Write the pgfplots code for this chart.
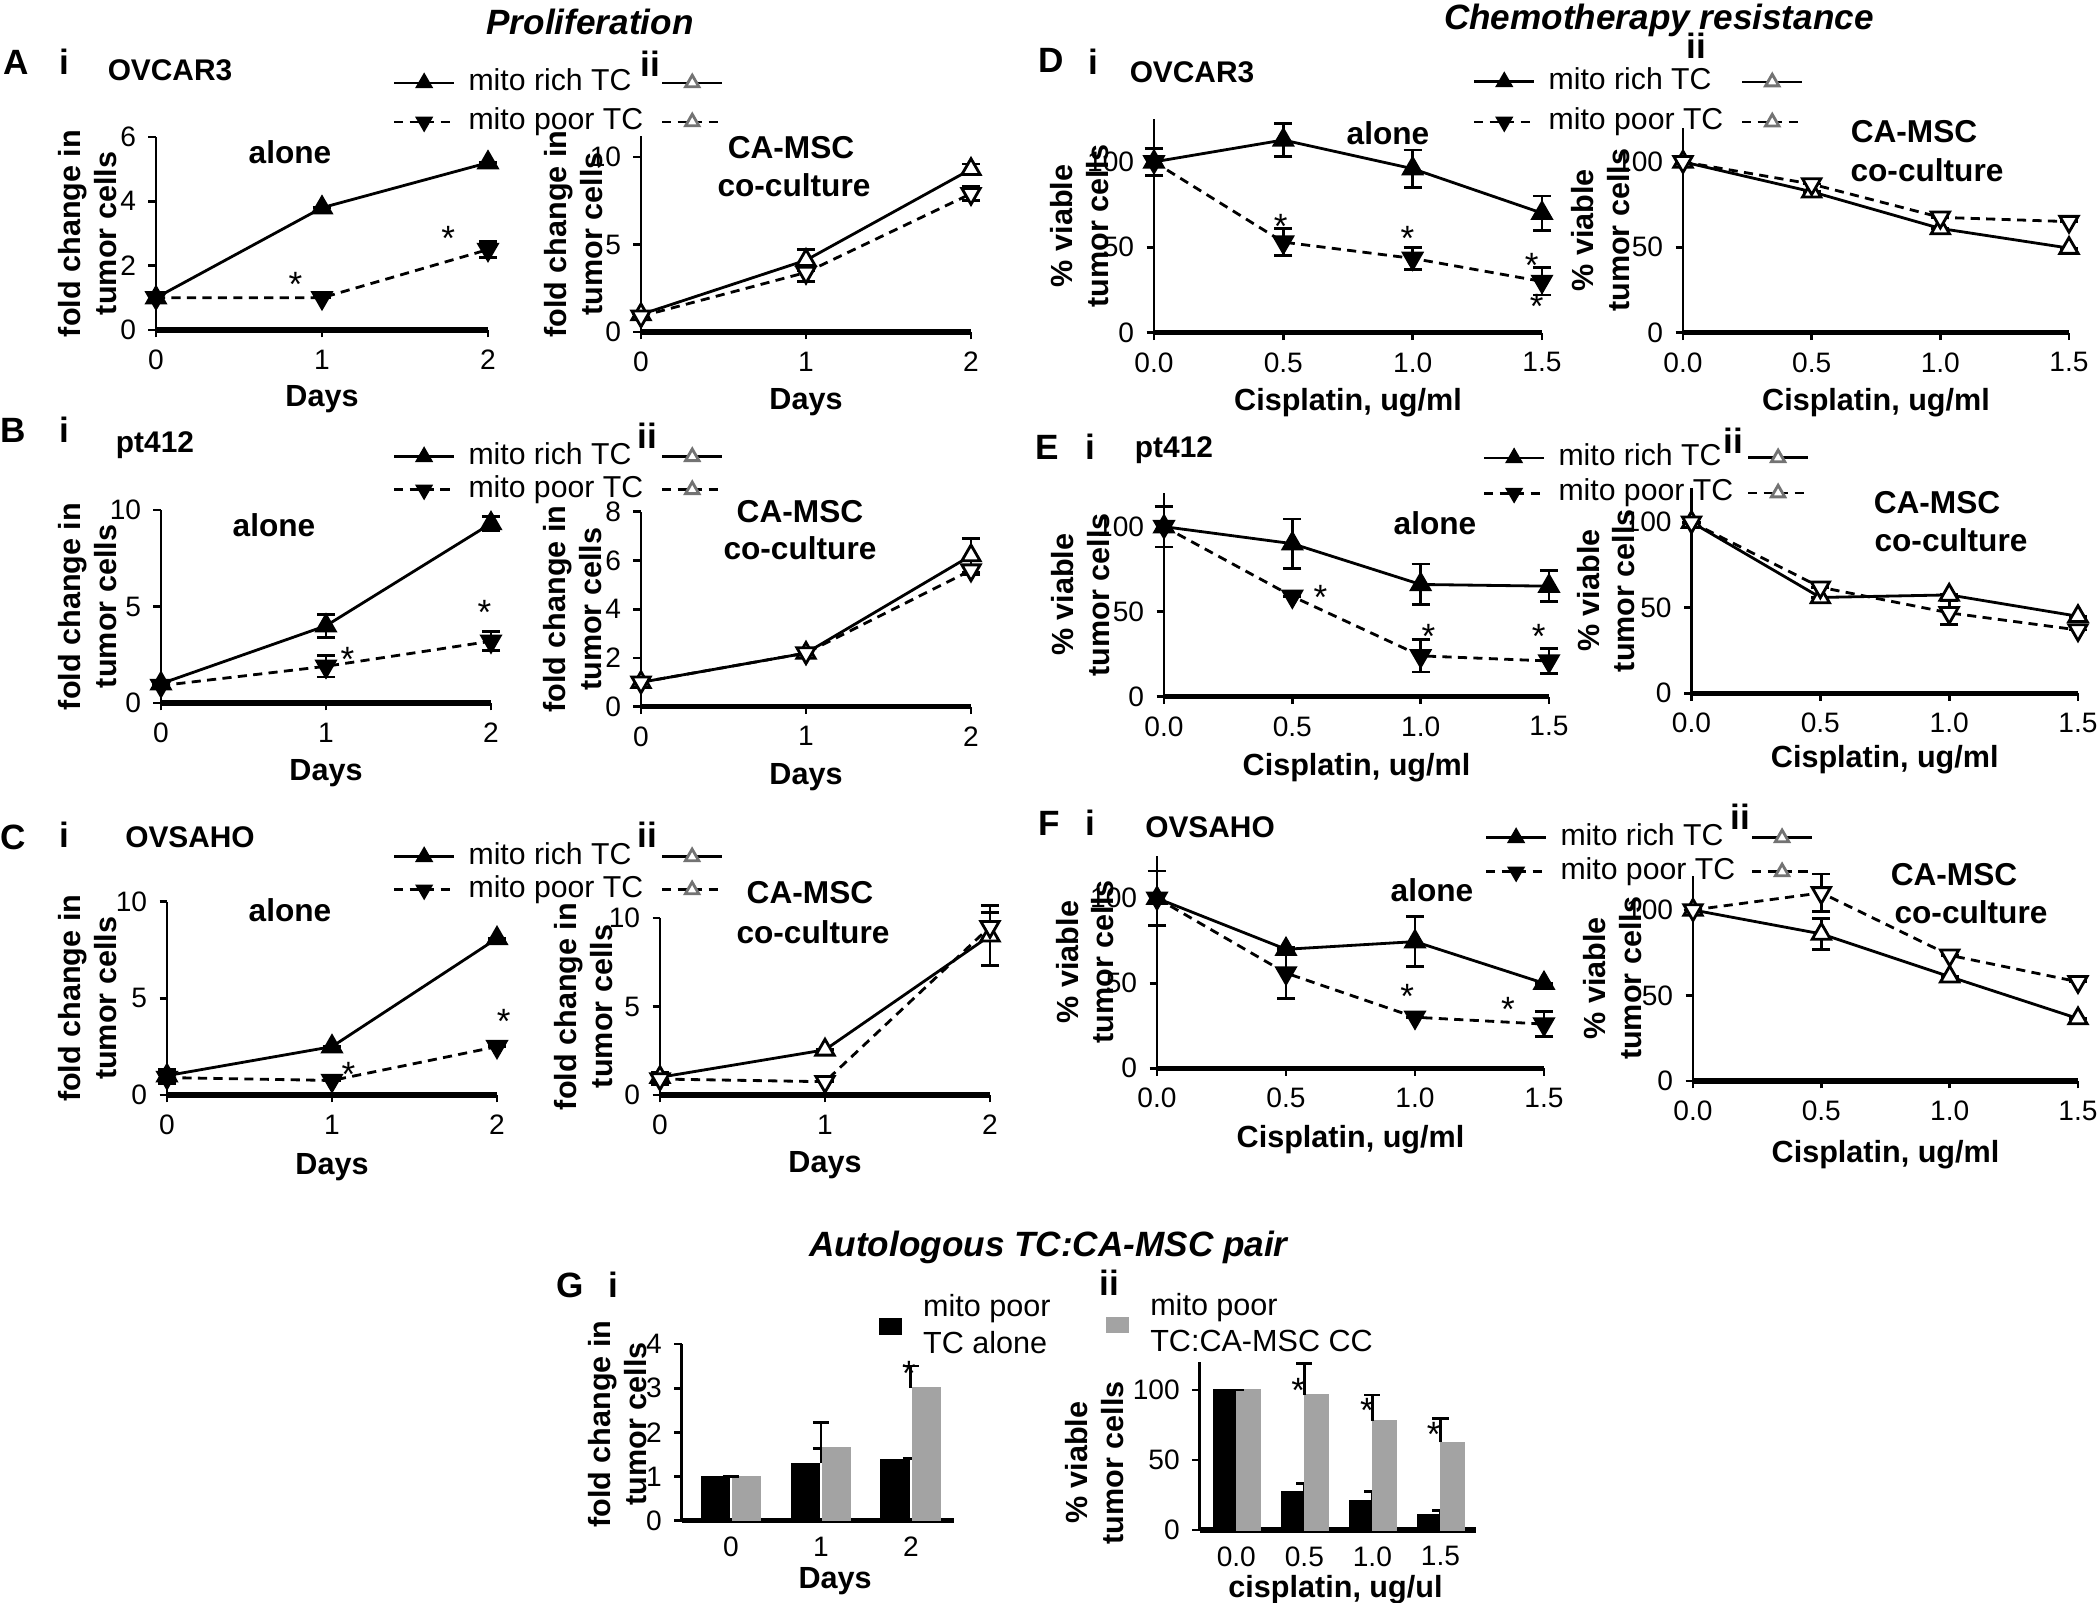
\documentclass[border=0pt]{standalone}
\usepackage{fontspec}
\setmainfont{Liberation Sans}
\usepackage{pgfplots}
\pgfplotsset{compat=1.18}
\definecolor{gbar}{RGB}{163,163,163}
\newcommand{\fTick}{\fontsize{8}{9}\selectfont}
\newcommand{\fLab}{\bfseries\fontsize{8.7}{10.2}\selectfont}
\newcommand{\fLeg}{\fontsize{8.6}{10}\selectfont}
\newcommand{\fTitle}{\bfseries\itshape\fontsize{10}{12}\selectfont}
\newcommand{\fPanel}{\bfseries\fontsize{10}{12}\selectfont}
\newcommand{\fCell}{\bfseries\fontsize{8.5}{10}\selectfont}
\newcommand{\fAnn}{\bfseries\fontsize{9}{10.5}\selectfont}
\pgfplotsset{
 gp/.style={scale only axis, anchor=south west, clip=false,
  axis x line*=bottom, axis y line*=left,
  x axis line style={-, line width=1.5pt},
  y axis line style={-, line width=0.8pt},
  tick align=outside, major tick length=0.75mm,
  tick style={black, line width=0.8pt},
  /pgf/number format/assume math mode=true,
  ticklabel style={font=\fTick},
  label style={font=\fLab, align=center},
  legend cell align=left},
 dx/.style={xmin=0,xmax=2,ymin=0,xtick={0,1,2},xlabel={Days},ylabel={fold change in\\tumor cells}},
 cx/.style={xmin=0,xmax=1.5,ymin=0,xtick={0,0.5,1,1.5},ytick={0,50,100},
  xticklabel style={/pgf/number format/fixed,/pgf/number format/fixed zerofill,/pgf/number format/precision=1},
  xlabel={Cisplatin, ug/ml},ylabel={\% viable\\tumor cells}},
 xl/.style={xlabel style={at={(axis description cs:#1)},anchor=center}},
 yl/.style={ylabel style={at={(axis description cs:#1)},anchor=center}},
 leg/.style 2 args={legend style={draw=none,fill=none,inner sep=0pt,row sep=#2,column sep=1.3mm,
  at={(axis description cs:#1)},anchor=west,font=\fLeg,
  nodes={inner sep=0pt,text height=6pt,text depth=1.8pt}},
  legend image post style={mark size=2.2pt}},
 rich/.style={black,line width=0.8pt,mark=triangle*,mark size=3pt,mark options={solid,fill=black}},
 poor/.style={black,line width=0.8pt,dash pattern=on 2.6pt off 1.8pt,mark=triangle*,mark size=3pt,mark options={solid,fill=black,rotate=180}},
 orich/.style={black,line width=0.8pt,mark=triangle*,mark size=3pt,mark options={solid,fill=white}},
 opoor/.style={black,line width=0.8pt,dash pattern=on 2.6pt off 1.8pt,mark=triangle*,mark size=3pt,mark options={solid,fill=white,rotate=180}},
 lrich/.style={black,line width=0.8pt,mark=triangle*,mark size=2pt,mark options={solid,fill=white,draw=black!55}},
 lpoor/.style={black,line width=0.8pt,dash pattern=on 2.6pt off 1.8pt,mark=triangle*,mark size=2pt,mark options={solid,fill=white,draw=black!55}},
 eb/.style={error bars/y dir=both, error bars/y explicit, error bars/error mark=-,
  error bars/error bar style={solid,draw=black,line width=0.8pt},
  error bars/error mark options={rotate=90,solid,draw=black,line width=0.8pt,mark size=2.6pt}},
 ebp/.style={error bars/y dir=plus, error bars/y explicit, error bars/error mark=-,
  error bars/error bar style={solid,draw=black,line width=0.8pt},
  error bars/error mark options={rotate=90,solid,draw=black,line width=0.8pt,mark size=2.3pt}},
}
\tikzset{ast/.style={font=\fontsize{10}{10}\selectfont,inner sep=0pt,yshift=-2.2pt}}
\begin{document}
\begin{tikzpicture}
\useasboundingbox (0,0) rectangle (210mm,160.3mm);
% titles
\node[font=\fTitle] at (59.0mm,158.1mm) {Proliferation};
\node[font=\fTitle] at (165.9mm,158.3mm) {Chemotherapy resistance};
\node[font=\fTitle] at (104.85mm,35.6mm) {Autologous TC:CA-MSC pair};
% panel letters
\node[font=\fPanel] at (1.6mm,154.1mm) {A};
\node[font=\fPanel] at (6.4mm,154.1mm) {i};
\node[font=\fCell] at (17.0mm,153.3mm) {OVCAR3};
\node[font=\fPanel] at (65.0mm,153.9mm) {ii};
\node[font=\fPanel] at (1.3mm,117.3mm) {B};
\node[font=\fPanel] at (6.4mm,117.3mm) {i};
\node[font=\fCell] at (15.5mm,115.8mm) {pt412};
\node[font=\fPanel] at (64.7mm,116.7mm) {ii};
\node[font=\fPanel] at (1.3mm,76.6mm) {C};
\node[font=\fPanel] at (6.4mm,76.8mm) {i};
\node[font=\fCell] at (19.0mm,76.6mm) {OVSAHO};
\node[font=\fPanel] at (64.7mm,76.8mm) {ii};
\node[font=\fPanel] at (105.1mm,154.3mm) {D};
\node[font=\fPanel] at (109.3mm,154.1mm) {i};
\node[font=\fCell] at (119.2mm,153.1mm) {OVCAR3};
\node[font=\fPanel] at (169.6mm,155.7mm) {ii};
\node[font=\fPanel] at (104.7mm,115.6mm) {E};
\node[font=\fPanel] at (109.0mm,115.6mm) {i};
\node[font=\fCell] at (117.4mm,115.3mm) {pt412};
\node[font=\fPanel] at (173.3mm,116.2mm) {ii};
\node[font=\fPanel] at (104.9mm,78.0mm) {F};
\node[font=\fPanel] at (109.0mm,78.0mm) {i};
\node[font=\fCell] at (121.0mm,77.6mm) {OVSAHO};
\node[font=\fPanel] at (174.0mm,78.6mm) {ii};
\node[font=\fPanel] at (57.0mm,31.8mm) {G};
\node[font=\fPanel] at (61.35mm,31.8mm) {i};
\node[font=\fPanel] at (110.9mm,32.0mm) {ii};
% annotations
\node[font=\fAnn] at (29.0mm,145.1mm) {alone};
\node[font=\fAnn] at (27.4mm,107.8mm) {alone};
\node[font=\fAnn] at (29.0mm,69.3mm) {alone};
\node[font=\fAnn] at (138.8mm,147.0mm) {alone};
\node[font=\fAnn] at (143.5mm,108.0mm) {alone};
\node[font=\fAnn] at (143.2mm,71.3mm) {alone};
\node[font=\fAnn] at (79.1mm,145.5mm) {CA-MSC};
\node[font=\fAnn] at (79.4mm,141.8mm) {co-culture};
\node[font=\fAnn] at (80.0mm,109.1mm) {CA-MSC};
\node[font=\fAnn] at (80.0mm,105.5mm) {co-culture};
\node[font=\fAnn] at (81.0mm,71.0mm) {CA-MSC};
\node[font=\fAnn] at (81.3mm,67.1mm) {co-culture};
\node[font=\fAnn] at (191.4mm,147.1mm) {CA-MSC};
\node[font=\fAnn] at (192.7mm,143.3mm) {co-culture};
\node[font=\fAnn] at (193.7mm,110.0mm) {CA-MSC};
\node[font=\fAnn] at (195.1mm,106.3mm) {co-culture};
\node[font=\fAnn] at (195.4mm,72.8mm) {CA-MSC};
\node[font=\fAnn] at (197.1mm,69.1mm) {co-culture};

% ---------- A i
\begin{axis}[gp,dx,at={(15.6mm,127.3mm)},width=33.2mm,height=19.3mm,ymax=6,ytick={0,2,4,6},
  xl={0.5,-0.357},yl={-0.206,0.5},leg={0.711,1.179}{3.3pt}]
\addplot[rich,eb] coordinates {(0,1) +- (0,0.1) (1,3.8) +- (0,0) (2,5.2) +- (0,0)};
\addlegendentry{mito rich TC}
\addplot[poor,eb] coordinates {(0,1) +- (0,0.1) (1,1.0) +- (0,0) (2,2.5) +- (0,0.25)};
\addlegendentry{mito poor TC}
\node[ast] at (axis cs:0.84,1.65) {*};
\node[ast] at (axis cs:1.76,3.09) {*};
\end{axis}
% ---------- A ii
\begin{axis}[gp,dx,at={(64.1mm,127.1mm)},width=33mm,height=19.6mm,ymax=11.2,ytick={0,5,10},
  xl={0.5,-0.357},yl={-0.2045,0.5},leg={0.058,1.171}{3.3pt}]
\addlegendimage{lrich}\addlegendentry{\phantom{mito poor TC}}
\addlegendimage{lpoor}\addlegendentry{\phantom{mito poor TC}}
\addplot[orich,eb,forget plot] coordinates {(0,1) +- (0,0.15) (1,4.1) +- (0,0.6) (2,9.3) +- (0,0.3)};
\addplot[opoor,eb,forget plot] coordinates {(0,0.9) +- (0,0.15) (1,3.4) +- (0,0.5) (2,7.9) +- (0,0.4)};
\end{axis}
% ---------- B i
\begin{axis}[gp,dx,at={(16.1mm,90.0mm)},width=33mm,height=19.3mm,ymax=10,ytick={0,5,10},
  xl={0.5,-0.363},yl={-0.223,0.5},leg={0.70,1.19}{1.6pt}]
\addplot[rich,eb] coordinates {(0,1) +- (0,0.1) (1,4.0) +- (0,0.6) (2,9.3) +- (0,0.35)};
\addlegendentry{mito rich TC}
\addplot[poor,eb] coordinates {(0,0.9) +- (0,0.1) (1,1.9) +- (0,0.55) (2,3.2) +- (0,0.5)};
\addlegendentry{mito poor TC}
\node[ast] at (axis cs:1.13,2.66) {*};
\node[ast] at (axis cs:1.96,5.08) {*};
\end{axis}
% ---------- B ii
\begin{axis}[gp,dx,at={(64.1mm,89.63mm)},width=33mm,height=19.5mm,ymax=8,ytick={0,2,4,6,8},
  xl={0.5,-0.36},yl={-0.208,0.5},leg={0.058,1.197}{1.6pt}]
\addlegendimage{lrich}\addlegendentry{\phantom{mito poor TC}}
\addlegendimage{lpoor}\addlegendentry{\phantom{mito poor TC}}
\addplot[orich,eb,forget plot] coordinates {(0,1) +- (0,0.2) (1,2.2) +- (0,0.15) (2,6.2) +- (0,0.7)};
\addplot[opoor,eb,forget plot] coordinates {(0,1) +- (0,0.2) (1,2.2) +- (0,0.15) (2,5.6) +- (0,0.2)};
\end{axis}
% ---------- C i
\begin{axis}[gp,dx,at={(16.7mm,50.8mm)},width=33mm,height=19.33mm,ymax=10,ytick={0,5,10},
  xl={0.5,-0.371},yl={-0.241,0.5},leg={0.682,1.147}{1.6pt}]
\addplot[rich,eb] coordinates {(0,1) +- (0,0.3) (1,2.5) +- (0,0) (2,8.1) +- (0,0)};
\addlegendentry{mito rich TC}
\addplot[poor,eb] coordinates {(0,0.9) +- (0,0.3) (1,0.75) +- (0,0) (2,2.5) +- (0,0)};
\addlegendentry{mito poor TC}
\node[ast] at (axis cs:1.10,1.46) {*};
\node[ast] at (axis cs:2.04,4.23) {*};
\end{axis}
% ---------- C ii
\begin{axis}[gp,dx,at={(66.0mm,50.8mm)},width=33mm,height=17.7mm,ymax=10,ytick={0,5,10},
  xl={0.5,-0.395},yl={-0.232,0.5},leg={0.0,1.252}{1.6pt}]
\addlegendimage{lrich}\addlegendentry{\phantom{mito poor TC}}
\addlegendimage{lpoor}\addlegendentry{\phantom{mito poor TC}}
\addplot[orich,eb,forget plot] coordinates {(0,1) +- (0,0.3) (1,2.55) +- (0,0) (2,9.0) +- (0,1.7)};
\addplot[opoor,eb,forget plot] coordinates {(0,0.9) +- (0,0.3) (1,0.75) +- (0,0) (2,9.5) +- (0,0.8)};
\end{axis}
% ---------- D i
\begin{axis}[gp,cx,at={(115.4mm,127.03mm)},width=38.8mm,height=21.35mm,ymax=125,
  xl={0.5,-0.33},yl={-0.191,0.5},leg={0.820,1.081}{3.6pt}]
\addplot[rich,eb] coordinates {(0,100) +- (0,8) (0.5,112.8) +- (0,9.5) (1,96) +- (0,11) (1.5,70) +- (0,10)};
\addlegendentry{mito rich TC}
\addplot[poor,eb] coordinates {(0,100) +- (0,8) (0.5,53) +- (0,8) (1,43.5) +- (0,6.5) (1.5,30) +- (0,8)};
\addlegendentry{mito poor TC}
\node[ast] at (axis cs:0.49,67) {*};
\node[ast] at (axis cs:0.98,60) {*};
\node[ast] at (axis cs:1.46,44) {*};
\node[ast] at (axis cs:1.48,20) {*};
\end{axis}
% ---------- D ii
\begin{axis}[gp,cx,at={(168.3mm,127.03mm)},width=38.6mm,height=20.5mm,ymax=120,
  xl={0.5,-0.343},yl={-0.214,0.5},leg={0.148,1.125}{3.6pt}]
\addlegendimage{lrich}\addlegendentry{\phantom{mito poor TC}}
\addlegendimage{lpoor}\addlegendentry{\phantom{mito poor TC}}
\addplot[orich,eb,forget plot] coordinates {(0,100) +- (0,2) (0.5,82.5) +- (0,0) (1,61) +- (0,0) (1.5,49.5) +- (0,0)};
\addplot[opoor,eb,forget plot] coordinates {(0,100) +- (0,2) (0.5,87) +- (0,0) (1,67.5) +- (0,0) (1.5,65) +- (0,0)};
\end{axis}
% ---------- E i
\begin{axis}[gp,cx,at={(116.4mm,90.63mm)},width=38.5mm,height=20.4mm,ymax=120,
  xl={0.5,-0.35},yl={-0.216,0.5},leg={0.826,1.084}{2.2pt}]
\addplot[rich,eb] coordinates {(0,100) +- (0,12) (0.5,90) +- (0,14.5) (1,66) +- (0,12) (1.5,65) +- (0,9)};
\addlegendentry{mito rich TC}
\addplot[poor,eb] coordinates {(0,100) +- (0,12) (0.5,59) +- (0,0) (1,24) +- (0,9.5) (1.5,21) +- (0,7.5)};
\addlegendentry{mito poor TC}
\node[ast] at (axis cs:0.61,63) {*};
\node[ast] at (axis cs:1.03,40) {*};
\node[ast] at (axis cs:1.46,40) {*};
\end{axis}
% ---------- E ii
\begin{axis}[gp,cx,at={(169.15mm,90.97mm)},width=38.65mm,height=20.53mm,ymax=120,
  xl={0.5,-0.325},yl={-0.221,0.5},leg={0.141,1.061}{2.2pt}]
\addlegendimage{lrich}\addlegendentry{\phantom{mito poor TC}}
\addlegendimage{lpoor}\addlegendentry{\phantom{mito poor TC}}
\addplot[orich,eb,forget plot] coordinates {(0,100) +- (0,0) (0.5,56) +- (0,0) (1,57.5) +- (0,0) (1.5,45) +- (0,0)};
\addplot[opoor,eb,forget plot] coordinates {(0,100) +- (0,0) (0.5,62) +- (0,0) (1,47) +- (0,7) (1.5,37) +- (0,0)};
\end{axis}
% ---------- F i
\begin{axis}[gp,cx,at={(115.7mm,53.47mm)},width=38.7mm,height=21.25mm,ymax=125,
  xl={0.5,-0.337},yl={-0.186,0.5},leg={0.845,1.0045}{1.9pt}]
\addplot[rich,eb] coordinates {(0,100) +- (0,16) (0.5,70) +- (0,0) (1,74.5) +- (0,14.7) (1.5,50) +- (0,0)};
\addlegendentry{mito rich TC}
\addplot[poor,eb] coordinates {(0,100) +- (0,16) (0.5,56) +- (0,15) (1,30) +- (0,0) (1.5,26) +- (0,7.4)};
\addlegendentry{mito poor TC}
\node[ast] at (axis cs:0.97,47) {*};
\node[ast] at (axis cs:1.36,39) {*};
\end{axis}
% ---------- F ii
\begin{axis}[gp,cx,at={(169.3mm,52.2mm)},width=38.5mm,height=20.52mm,ymax=120,
  xl={0.5,-0.36},yl={-0.209,0.5},leg={0.148,1.102}{1.9pt}]
\addlegendimage{lrich}\addlegendentry{\phantom{mito poor TC}}
\addlegendimage{lpoor}\addlegendentry{\phantom{mito poor TC}}
\addplot[orich,eb,forget plot] coordinates {(0,100) +- (0,0) (0.5,86) +- (0,9) (1,61) +- (0,0) (1.5,36.5) +- (0,0)};
\addplot[opoor,eb,forget plot] coordinates {(0,100) +- (0,0) (0.5,110) +- (0,11) (1,73.5) +- (0,0) (1.5,58) +- (0,0)};
\end{axis}
% ---------- G i
\begin{axis}[gp,at={(68.18mm,8.23mm)},width=27.22mm,height=17.67mm,
  xmin=-0.547,xmax=2.48,ymin=0,ymax=4,xtick={0,1,2},ytick={0,1,2,3,4},xtick style={draw=none},
  xticklabel style={yshift=1pt},
  xlabel={Days},ylabel={fold change in\\tumor cells},xl={0.563,-0.34},yl={-0.235,0.547},
  legend style={draw=none,fill=none,inner sep=0pt,column sep=2.1mm,at={(axis description cs:0.721,1.099)},anchor=west,
   font=\fontsize{8.7}{10.5}\selectfont,nodes={inner sep=0pt,align=left}}]
\addplot[ybar,bar width=0.31,bar shift=-0.175,fill=black,draw=black,ebp,
  legend image code/.code={\fill[black] (0mm,-0.75mm) rectangle (2.2mm,0.75mm);}]
  coordinates {(0,1) +- (0,0) (1,1.3) +- (0,0.33) (2,1.37) +- (0,0.05)};
\addlegendentry{mito poor\\TC alone}
\addplot[ybar,bar width=0.31,bar shift=0.172,fill=gbar,draw=gbar,ebp,forget plot]
  coordinates {(0,1) +- (0,0) (1,1.65) +- (0,0.57) (2,3.0) +- (0,0.5)};
\node[ast] at (axis cs:1.98,3.5) {*};
\end{axis}
% ---------- G ii
\begin{axis}[gp,at={(119.96mm,7.3mm)},width=27.62mm,height=16.8mm,
  xmin=-0.54,xmax=3.52,ymin=0,ymax=120,xtick={0,1,2,3},xticklabels={0.0,0.5,1.0,1.5},ytick={0,50,100},xtick style={draw=none},
  xticklabel style={yshift=1pt},
  xlabel={cisplatin, ug/ul},ylabel={\% viable\\tumor cells},xl={0.492,-0.355},yl={-0.379,0.40},
  legend style={draw=none,fill=none,inner sep=0pt,column sep=2.1mm,at={(axis description cs:-0.342,1.22)},anchor=west,
   font=\fontsize{8.7}{10.5}\selectfont,nodes={inner sep=0pt,align=left}}]
\addplot[ybar,bar width=0.34,bar shift=-0.17,fill=black,draw=black,ebp,forget plot]
  coordinates {(0,100) +- (0,0) (1,27.4) +- (0,6) (2,21) +- (0,6.4) (3,11.2) +- (0,3)};
\addplot[ybar,bar width=0.34,bar shift=0.18,fill=gbar,draw=gbar,ebp,
  legend image code/.code={\fill[gbar] (0mm,-0.75mm) rectangle (2.2mm,0.75mm);}]
  coordinates {(0,100) +- (0,0) (1,96.4) +- (0,22.6) (2,77.8) +- (0,18.6) (3,62.6) +- (0,17.2)};
\addlegendentry{mito poor\\TC:CA-MSC CC}
\node[ast] at (axis cs:0.91,105) {*};
\node[ast] at (axis cs:1.92,91) {*};
\node[ast] at (axis cs:2.9,74) {*};
\end{axis}
\end{tikzpicture}
\end{document}
